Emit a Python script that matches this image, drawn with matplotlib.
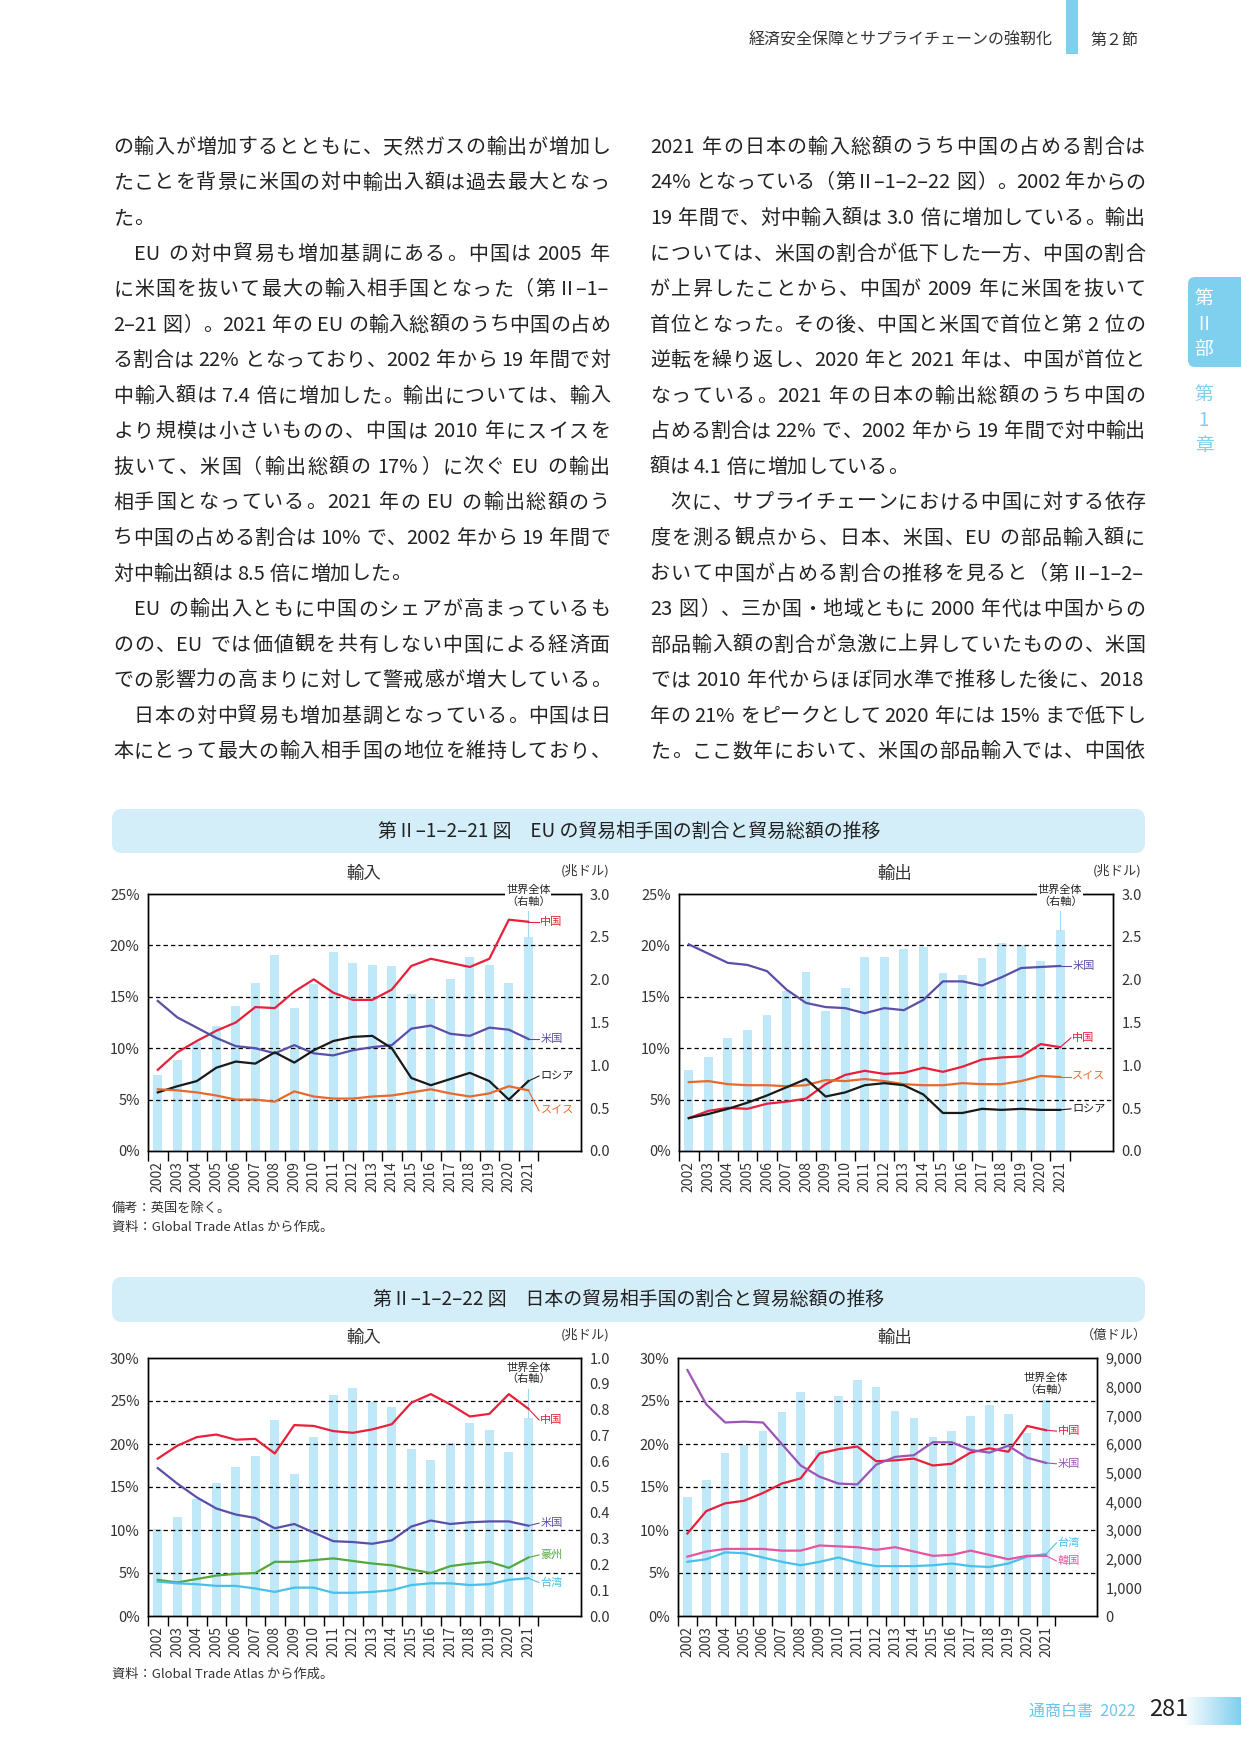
import matplotlib
matplotlib.use('Agg')
import matplotlib.pyplot as plt
import numpy as np
from matplotlib.patches import FancyBboxPatch, Rectangle
from matplotlib.colors import LinearSegmentedColormap

# ---------------- data ----------------
years = list(range(2002, 2022))

eu_imp_total = [0.89, 1.06, 1.27, 1.46, 1.69, 1.96, 2.29, 1.67, 1.95, 2.32, 2.19, 2.17, 2.16, 1.83, 1.77, 2.01, 2.26, 2.17, 1.96, 2.50]
eu_imp_china = [7.9, 9.6, 10.7, 11.7, 12.5, 14.0, 13.9, 15.5, 16.7, 15.4, 14.7, 14.7, 15.7, 18.0, 18.7, 18.3, 17.9, 18.7, 22.5, 22.3]
eu_imp_us = [14.6, 13.0, 12.0, 11.0, 10.2, 10.0, 9.5, 10.3, 9.5, 9.3, 9.8, 10.1, 10.3, 11.9, 12.2, 11.4, 11.2, 12.0, 11.8, 10.9]
eu_imp_russia = [5.7, 6.3, 6.8, 8.1, 8.7, 8.5, 9.6, 8.6, 9.8, 10.7, 11.1, 11.2, 10.0, 7.1, 6.4, 7.0, 7.6, 6.8, 5.0, 6.8]
eu_imp_swiss = [6.0, 5.9, 5.7, 5.4, 5.0, 5.0, 4.8, 5.8, 5.3, 5.1, 5.1, 5.3, 5.4, 5.7, 6.0, 5.6, 5.3, 5.6, 6.3, 5.9]

eu_exp_total = [0.94, 1.10, 1.32, 1.41, 1.59, 1.87, 2.09, 1.64, 1.90, 2.26, 2.27, 2.36, 2.38, 2.08, 2.06, 2.25, 2.43, 2.40, 2.22, 2.58]
eu_exp_us = [20.1, 19.2, 18.3, 18.1, 17.5, 15.7, 14.4, 14.0, 13.9, 13.4, 13.9, 13.7, 14.7, 16.5, 16.5, 16.1, 16.9, 17.8, 17.9, 18.0]
eu_exp_china = [3.2, 3.9, 4.2, 4.1, 4.6, 4.8, 5.1, 6.5, 7.4, 7.8, 7.5, 7.6, 8.1, 7.7, 8.2, 8.9, 9.1, 9.2, 10.4, 10.1]
eu_exp_swiss = [6.7, 6.8, 6.5, 6.4, 6.4, 6.3, 6.4, 6.9, 6.8, 7.0, 6.8, 6.5, 6.4, 6.4, 6.6, 6.5, 6.5, 6.8, 7.3, 7.2]
eu_exp_russia = [3.2, 3.6, 4.1, 4.7, 5.4, 6.2, 7.0, 5.3, 5.7, 6.4, 6.6, 6.4, 5.5, 3.7, 3.7, 4.1, 4.0, 4.1, 4.0, 4.0]

jp_imp_total = [0.338, 0.384, 0.454, 0.516, 0.578, 0.621, 0.761, 0.551, 0.695, 0.858, 0.885, 0.831, 0.811, 0.648, 0.605, 0.671, 0.749, 0.722, 0.636, 0.768]
jp_imp_china = [18.3, 19.8, 20.8, 21.1, 20.5, 20.6, 18.9, 22.2, 22.1, 21.5, 21.3, 21.7, 22.3, 24.8, 25.8, 24.6, 23.2, 23.5, 25.8, 24.1]
jp_imp_us = [17.2, 15.4, 13.8, 12.5, 11.8, 11.4, 10.2, 10.7, 9.7, 8.7, 8.6, 8.4, 8.8, 10.4, 11.1, 10.7, 10.9, 11.0, 11.0, 10.5]
jp_imp_aus = [4.2, 3.9, 4.3, 4.7, 4.9, 5.0, 6.3, 6.3, 6.5, 6.7, 6.4, 6.1, 5.9, 5.4, 5.0, 5.8, 6.1, 6.3, 5.6, 6.8]
jp_imp_taiwan = [4.0, 3.8, 3.7, 3.5, 3.5, 3.2, 2.8, 3.3, 3.3, 2.7, 2.7, 2.8, 3.0, 3.6, 3.8, 3.8, 3.6, 3.7, 4.2, 4.4]

jp_exp_total = [4160, 4730, 5670, 5950, 6460, 7130, 7820, 5800, 7680, 8240, 8000, 7160, 6920, 6250, 6460, 6990, 7370, 7060, 6390, 7540]
jp_exp_china = [9.6, 12.2, 13.1, 13.4, 14.3, 15.4, 16.0, 18.9, 19.4, 19.7, 18.0, 18.1, 18.3, 17.5, 17.7, 19.0, 19.5, 19.1, 22.1, 21.6]
jp_exp_us = [28.6, 24.6, 22.5, 22.6, 22.5, 20.0, 17.5, 16.2, 15.4, 15.3, 17.6, 18.5, 18.7, 20.2, 20.2, 19.3, 19.0, 19.8, 18.4, 17.8]
jp_exp_korea = [6.9, 7.5, 7.8, 7.8, 7.8, 7.6, 7.6, 8.2, 8.1, 8.0, 7.7, 8.0, 7.5, 7.0, 7.1, 7.6, 7.1, 6.6, 7.0, 7.0]
jp_exp_taiwan = [6.3, 6.6, 7.4, 7.3, 6.8, 6.3, 5.9, 6.3, 6.8, 6.2, 5.8, 5.8, 5.8, 5.9, 6.1, 5.8, 5.7, 6.1, 6.9, 7.2]

left_lines = [
    "の輸入が増加するとともに、天然ガスの輸出が増加し",
    "たことを背景に米国の対中輸出入額は過去最大となっ",
    "た。",
    "　EU の対中貿易も増加基調にある。中国は 2005 年",
    "に米国を抜いて最大の輸入相手国となった（第Ⅱ–1–",
    "2–21 図）。2021 年の EU の輸入総額のうち中国の占め",
    "る割合は 22% となっており、2002 年から 19 年間で対",
    "中輸入額は 7.4 倍に増加した。輸出については、輸入",
    "より規模は小さいものの、中国は 2010 年にスイスを",
    "抜いて、米国（輸出総額の 17%）に次ぐ EU の輸出",
    "相手国となっている。2021 年の EU の輸出総額のう",
    "ち中国の占める割合は 10% で、2002 年から 19 年間で",
    "対中輸出額は 8.5 倍に増加した。",
    "　EU の輸出入ともに中国のシェアが高まっているも",
    "のの、EU では価値観を共有しない中国による経済面",
    "での影響力の高まりに対して警戒感が増大している。",
    "　日本の対中貿易も増加基調となっている。中国は日",
    "本にとって最大の輸入相手国の地位を維持しており、",
]
left_ends = [2, 12]

right_lines = [
    "2021 年の日本の輸入総額のうち中国の占める割合は",
    "24% となっている（第Ⅱ–1–2–22 図）。2002 年からの",
    "19 年間で、対中輸入額は 3.0 倍に増加している。輸出",
    "については、米国の割合が低下した一方、中国の割合",
    "が上昇したことから、中国が 2009 年に米国を抜いて",
    "首位となった。その後、中国と米国で首位と第 2 位の",
    "逆転を繰り返し、2020 年と 2021 年は、中国が首位と",
    "なっている。2021 年の日本の輸出総額のうち中国の",
    "占める割合は 22% で、2002 年から 19 年間で対中輸出",
    "額は 4.1 倍に増加している。",
    "　次に、サプライチェーンにおける中国に対する依存",
    "度を測る観点から、日本、米国、EU の部品輸入額に",
    "おいて中国が占める割合の推移を見ると（第Ⅱ–1–2–",
    "23 図）、三か国・地域ともに 2000 年代は中国からの",
    "部品輸入額の割合が急激に上昇していたものの、米国",
    "では 2010 年代からほぼ同水準で推移した後に、2018",
    "年の 21% をピークとして 2020 年には 15% まで低下し",
    "た。ここ数年において、米国の部品輸入では、中国依",
]
right_ends = [9]

# ---------------- setup ----------------
W, H = 1241, 1754
FONT = ['Noto Sans CJK JP', 'DejaVu Sans']
plt.rcParams['font.family'] = FONT

BAR = '#bfe8f9'
RED = '#e8203a'
BLUE = '#5a4fa8'
VIOLET = '#9a55b6'
BLACK = '#1a1a1a'
ORANGE = '#e8692c'
GREEN = '#55a83c'
CYAN = '#48c0ea'
PINK = '#e6559f'
TXT = '#333333'
LIGHTBLUE = '#7fcfee'

fig = plt.figure(figsize=(W / 100, H / 100), dpi=100)
bg = fig.add_axes([0, 0, 1, 1], zorder=0)
bg.axis('off')
renderer = fig.canvas.get_renderer()

# ---------------- body text ----------------
BODY_FS = 14.4
em = BODY_FS * 100 / 72
RUN_CHARS = '–Ⅱ'


def tokenize(line):
    toks, buf = [], ''
    for ch in line:
        if ch == ' ':
            if buf:
                toks.append(buf); buf = ''
            toks.append(' ')
        elif ord(ch) < 128 or ch in RUN_CHARS:
            buf += ch
        else:
            if buf:
                toks.append(buf); buf = ''
            toks.append(ch)
    if buf:
        toks.append(buf)
    return toks


def draw_line(line, x0, x1, yc, justify):
    toks = tokenize(line)
    items = []
    base = yc + 0.37 * em
    for t in toks:
        if t == ' ':
            items.append((None, 0.2 * em, 'sp'))
        elif t == '　':
            items.append((None, em, 'sp'))
        elif len(t) == 1 and ord(t) >= 128 and t not in RUN_CHARS:
            items.append((t, em, 'full'))
        else:
            tx = bg.text(0, base, t, fontsize=BODY_FS, color='#222', ha='left', va='baseline')
            w = tx.get_window_extent(renderer=renderer).width + 0.06 * em
            items.append((tx, w, 'half'))
    natural = sum(w for _, w, _ in items)
    n = max(len(items) - 1, 1)
    gap = (x1 - x0 - natural) / n if justify else 0.0
    x = x0
    for obj, w, kind in items:
        if kind == 'full':
            ch = obj
            if ch in '、。）」':
                bg.text(x + 0.05 * em, base, ch, fontsize=BODY_FS, color='#222', ha='left', va='baseline')
            elif ch in '（「':
                bg.text(x + w - 0.05 * em, base, ch, fontsize=BODY_FS, color='#222', ha='right', va='baseline')
            else:
                bg.text(x + w / 2, base, ch, fontsize=BODY_FS, color='#222', ha='center', va='baseline')
        elif kind == 'half':
            obj.set_position((x, base))
        x += w + gap


LINE_Y0, LINE_DY = 145.5, 35.55
for i, ln in enumerate(left_lines):
    draw_line(ln, 113, 610, LINE_Y0 + i * LINE_DY, i not in left_ends)
for i, ln in enumerate(right_lines):
    draw_line(ln, 650, 1145, LINE_Y0 + i * LINE_DY, i not in right_ends)

# ---------------- header / side / footer ----------------
bg.text(1053, 40, '経済安全保障とサプライチェーンの強靭化', fontsize=11.5, color=TXT, ha='right', va='center')
bg.add_patch(Rectangle((1066, 0), 12, 54, color=LIGHTBLUE, lw=0))
bg.text(1090, 40, '第２節', fontsize=11.5, color=TXT, ha='left', va='center')

bg.add_patch(FancyBboxPatch((1188, 277), 80, 90, boxstyle='round,pad=0,rounding_size=7',
                            fc=LIGHTBLUE, ec='none'))
for ch, yy in zip(['第', 'Ⅱ', '部'], [298, 324, 349]):
    bg.text(1204, yy, ch, fontsize=13.5, color='white', ha='center', va='center')
for ch, yy in zip(['第', '1', '章'], [394, 420, 446]):
    bg.text(1204, yy, ch, fontsize=13.5, color=LIGHTBLUE, ha='center', va='center')

bg.text(1029, 1711, '通商白書  2022', fontsize=11.5, color='#6cc6ea', ha='left', va='center')
bg.text(1149, 1710, '281', fontsize=17, color='#222', ha='left', va='center')
grad = np.linspace(0, 1, 256).reshape(1, -1)
cmap = LinearSegmentedColormap.from_list('g', ['#ffffff', LIGHTBLUE])
bg.imshow(grad, extent=[1183, 1241, 1725, 1697], cmap=cmap, aspect='auto', zorder=1)

# banners
for (y0, y1, title) in [(809, 853, '第Ⅱ–1–2–21 図　EU の貿易相手国の割合と貿易総額の推移'),
                        (1277, 1322, '第Ⅱ–1–2–22 図　日本の貿易相手国の割合と貿易総額の推移')]:
    bg.add_patch(FancyBboxPatch((112, y0), 1033, y1 - y0, boxstyle='round,pad=0,rounding_size=10',
                                fc='#d4eef9', ec='none'))
    bg.text(629, (y0 + y1) / 2, title, fontsize=13.6, color='#222', ha='center', va='center')

# notes
bg.text(112, 1208, '備考：英国を除く。', fontsize=9.5, color=TXT, ha='left', va='center')
bg.text(112, 1227, '資料：Global Trade Atlas から作成。', fontsize=9.5, color=TXT, ha='left', va='center')
bg.text(112, 1674, '資料：Global Trade Atlas から作成。', fontsize=9.5, color=TXT, ha='left', va='center')

bg.set_xlim(0, W)
bg.set_ylim(H, 0)


# ---------------- charts ----------------
def chart(rect, totals, tmax, tstep, tfmt, pmax, series, title, title_x, unit, unit_x,
          world_frac, leader_top, world_bbox):
    l, t, r, b = rect
    ax = fig.add_axes([l / W, 1 - b / H, (r - l) / W, (b - t) / H])
    ax2 = ax.twinx()
    ax.set_zorder(3)
    ax2.set_zorder(2)
    ax.patch.set_visible(False)
    x = np.arange(len(years))

    ax2.bar(x, totals, width=0.45, color=BAR, zorder=1)
    ax2.set_ylim(0, tmax)
    tt = np.arange(0, tmax + tstep / 2, tstep)
    ax2.set_yticks(tt)
    ax2.set_yticklabels([tfmt(v) for v in tt])
    ax2.tick_params(axis='y', length=0, pad=6, labelsize=10.5, labelcolor=TXT)

    ax.set_ylim(0, pmax)
    pt = np.arange(0, pmax + 1, 5)
    ax.set_yticks(pt)
    ax.set_yticklabels(['%d%%' % v for v in pt])
    ax.tick_params(axis='y', length=0, pad=6, labelsize=10.5, labelcolor=TXT)
    for v in pt[1:-1]:
        ax.axhline(v, color='black', lw=0.9, ls=(0, (3.5, 2.5)), zorder=1)

    ax.set_xlim(-0.5, 21.7)
    ax.set_xticks(np.arange(-0.5, len(years), 1.0))
    ax.set_xticklabels([])
    ax.set_xticks(x, minor=True)
    ax.set_xticklabels([str(y) for y in years], minor=True, rotation=90)
    ax.tick_params(axis='x', which='major', length=7, width=1, direction='out', color='black')
    ax.tick_params(axis='x', which='minor', length=0, pad=7, labelsize=10, labelcolor=TXT)

    for a in (ax, ax2):
        for s in a.spines.values():
            s.set_color('black')
            s.set_linewidth(1.0)

    for vals, color, name, ly in series:
        ax.plot(x, vals, color=color, lw=1.6, zorder=4, solid_joinstyle='round')
        ax.plot([x[-1], x[-1] + 0.55], [vals[-1], ly], color=color, lw=0.8, zorder=4)
        ax.text(x[-1] + 0.62, ly, name, color=color, fontsize=8, ha='left', va='center', zorder=5)

    tr = ax.get_xaxis_transform()
    kw = dict(fc='white', ec='none', pad=0.5) if world_bbox else None
    ax.text(x[-1], world_frac, '世界全体\n（右軸）', transform=tr, fontsize=8, ha='center',
            va='center', linespacing=1.1, color='#222', bbox=kw, zorder=6)
    if leader_top is not None:
        ax.plot([x[-1], x[-1]], [leader_top, totals[-1] / tmax], transform=tr, color='#9fd8f2',
                lw=0.8, zorder=2)

    bg.text(title_x, t - 20, title, fontsize=12.5, color=TXT, ha='center', va='center')
    bg.text(unit_x, t - 23, unit, fontsize=9.5, color=TXT, ha='center', va='center')
    return ax


chart((148, 894, 581, 1151), eu_imp_total, 3.0, 0.5, lambda v: '%.1f' % v, 25,
      [(eu_imp_china, RED, '中国', 22.3), (eu_imp_us, BLUE, '米国', 10.9),
       (eu_imp_russia, BLACK, 'ロシア', 7.3), (eu_imp_swiss, ORANGE, 'スイス', 3.9)],
      '輸入', 364, '(兆ドル)', 585, 0.992, 0.935, True)

chart((679, 894, 1113, 1151), eu_exp_total, 3.0, 0.5, lambda v: '%.1f' % v, 25,
      [(eu_exp_us, BLUE, '米国', 18.0), (eu_exp_china, RED, '中国', 11.0),
       (eu_exp_swiss, ORANGE, 'スイス', 7.2), (eu_exp_russia, BLACK, 'ロシア', 4.1)],
      '輸出', 895, '(兆ドル)', 1117, 0.992, 0.935, True)

chart((148, 1358, 581, 1616), jp_imp_total, 1.0, 0.1, lambda v: '%.1f' % v, 30,
      [(jp_imp_china, RED, '中国', 22.8), (jp_imp_us, BLUE, '米国', 10.8),
       (jp_imp_aus, GREEN, '豪州', 7.1), (jp_imp_taiwan, CYAN, '台湾', 3.9)],
      '輸入', 364, '(兆ドル)', 585, 0.94, 0.88, False)

chart((678, 1358, 1097, 1616), jp_exp_total, 9000, 1000, lambda v: '{:,.0f}'.format(v), 30,
      [(jp_exp_china, RED, '中国', 21.5), (jp_exp_us, VIOLET, '米国', 17.7),
       (jp_exp_taiwan, CYAN, '台湾', 8.5), (jp_exp_korea, PINK, '韓国', 6.4)],
      '輸出', 895, '（億ドル）', 1114, 0.90, None, False)

fig.savefig('out.png', dpi=100)
